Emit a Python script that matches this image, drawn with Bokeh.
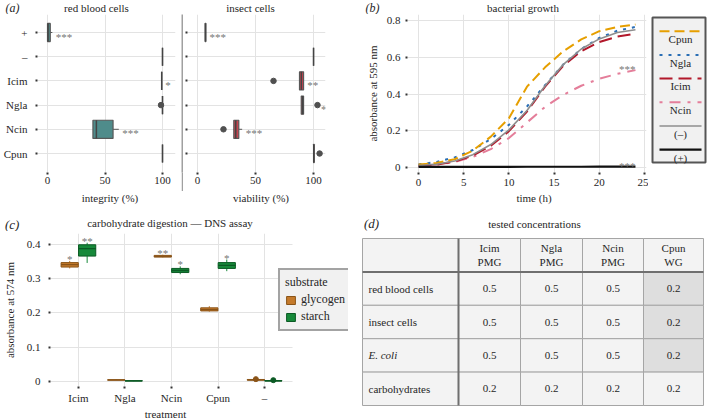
from bokeh.plotting import figure
from bokeh.layouts import row, column
from bokeh.models import Range1d, FixedTicker, Legend, LegendItem, ColumnDataSource
from bokeh.core.properties import value
from bokeh.embed import file_html
from bokeh.resources import INLINE

FONT = "Liberation Serif"
INK = "#262626"
TICK = "#333333"
GRID = "#e3e3e3"
STAR = "#757575"
EDGE = "#585858"

# ---------------- (a) cell assays ----------------
cats_a = ["+", "\u2013", "Icim", "Ngla", "Ncin", "Cpun"]
# red blood cells: integrity (%)
rbc_lw = [0.0, 100, 99.3, 100, 39.5, 100]
rbc_q1 = [0.0, 100, 99.3, 100, 39.5, 100]
rbc_med = [0.5, 100, 99.3, 100, 42.5, 100]
rbc_q3 = [2.4, 100, 99.3, 100, 57.0, 100]
rbc_uw = [4.2, 100, 99.3, 100, 62.0, 100]
rbc_out_cat = ["Ngla"]
rbc_out_val = [98.7]
rbc_sig = ["***", "", "*", "", "***", ""]
# insect cells: viability (%)
ins_lw = [6.6, 100, 87.9, 89.4, 31.0, 100]
ins_q1 = [6.6, 100, 87.9, 89.4, 31.3, 100]
ins_med = [6.9, 100, 89.5, 90.5, 33.0, 100.2]
ins_q3 = [7.2, 100, 91.4, 91.4, 35.6, 100.6]
ins_uw = [7.4, 100, 91.6, 91.6, 38.5, 100.8]
ins_out_cat = ["Icim", "Ngla", "Ncin", "Cpun"]
ins_out_val = [65.5, 103.4, 22.4, 105.2]
ins_sig = ["***", "", "**", "*", "***", ""]
pct_ticks = [0, 50, 100]

# ---------------- (b) bacterial growth ----------------
hours = [0, 2, 4, 6, 8, 10, 12, 14, 16, 18, 20, 22, 24]
growth_cpun = [0.016, 0.025, 0.045, 0.092, 0.168, 0.268, 0.440, 0.545, 0.632, 0.697, 0.742, 0.765, 0.778]
growth_ngla = [0.017, 0.030, 0.055, 0.095, 0.155, 0.232, 0.332, 0.448, 0.560, 0.645, 0.705, 0.745, 0.765]
growth_icim = [0.010, 0.016, 0.032, 0.064, 0.118, 0.198, 0.305, 0.440, 0.553, 0.633, 0.683, 0.713, 0.728]
growth_ncin = [0.010, 0.016, 0.030, 0.057, 0.100, 0.160, 0.245, 0.330, 0.395, 0.445, 0.483, 0.510, 0.530]
growth_neg = [0.011, 0.018, 0.035, 0.070, 0.125, 0.205, 0.310, 0.445, 0.560, 0.645, 0.700, 0.735, 0.750]
growth_pos = [0.003, 0.003, 0.003, 0.003, 0.003, 0.003, 0.004, 0.004, 0.004, 0.004, 0.005, 0.005, 0.005]
growth_names = ["Cpun", "Ngla", "Icim", "Ncin", "(\u2013)", "(+)"]
growth_sig = ["", "", "", "***", "", "***"]
time_ticks = [0, 5, 10, 15, 20, 25]
abs_ticks_b = [0, 0.2, 0.4, 0.6, 0.8]

# ---------------- (c) carbohydrate digestion ----------------
treat = ["Icim", "Ngla", "Ncin", "Cpun", "\u2013"]
gly_lw = [0.330, 0.004, 0.362, 0.204, 0.003]
gly_q1 = [0.334, 0.004, 0.363, 0.206, 0.004]
gly_med = [0.341, 0.005, 0.365, 0.210, 0.005]
gly_q3 = [0.347, 0.005, 0.368, 0.215, 0.006]
gly_uw = [0.352, 0.006, 0.370, 0.220, 0.007]
gly_out_cat = ["\u2013"]
gly_out_val = [0.007]
gly_sig = ["*", "", "**", "", ""]
sta_lw = [0.346, 0.001, 0.313, 0.322, 0.001]
sta_q1 = [0.366, 0.0015, 0.318, 0.330, 0.0015]
sta_med = [0.388, 0.002, 0.324, 0.339, 0.002]
sta_q3 = [0.399, 0.0025, 0.330, 0.347, 0.003]
sta_uw = [0.405, 0.003, 0.336, 0.356, 0.004]
sta_out_cat = ["\u2013"]
sta_out_val = [0.004]
sta_sig = ["**", "", "*", "*", ""]
abs_ticks_c = [0, 0.1, 0.2, 0.3, 0.4]

# ---------------- (d) tested concentrations ----------------
tbl_rows = ["red blood cells", "insect cells", "E. coli", "carbohydrates"]
tbl_heads = ["Icim\nPMG", "Ngla\nPMG", "Ncin\nPMG", "Cpun\nWG"]
conc_icim = [0.5, 0.5, 0.5, 0.2]
conc_ngla = [0.5, 0.5, 0.5, 0.2]
conc_ncin = [0.5, 0.5, 0.5, 0.2]
conc_cpun = [0.2, 0.2, 0.2, 0.2]

# panel tags, titles and axis titles
panel_tags = ["(a)", "(b)", "(c)", "(d)"]
panel_titles = ["red blood cells", "insect cells", "bacterial growth",
                "carbohydrate digestion \u2014 DNS assay", "tested concentrations"]
axis_titles = ["integrity (%)", "viability (%)", "time (h)", "treatment"]


def fmt(v):
    return f"{v:g}"


def style_fig(p, s1):
    p.outline_line_color = None
    for ax in p.axis:
        ax.axis_line_color = None
        ax.major_tick_line_color = TICK
        ax.major_tick_line_width = 2
        ax.major_tick_out = 2
        ax.major_tick_in = 0
        ax.minor_tick_line_color = None
        ax.major_label_text_font = FONT
        ax.major_label_text_font_size = "11px"
        ax.major_label_text_color = INK
        ax.axis_label_text_font = FONT
        ax.axis_label_text_font_size = "11px"
        ax.axis_label_text_font_style = "normal"
        ax.axis_label_text_color = INK
        ax.major_label_standoff = s1
        ax.axis_label_standoff = 5
    for g in p.grid:
        g.grid_line_color = GRID
        g.grid_line_width = 1


def strip(width, height, x0=0.0, x1=None, lb=0, rb=0):
    s = figure(width=width, height=height, x_range=Range1d(x0, width if x1 is None else x1),
               y_range=Range1d(height, 0),
               output_backend="svg", toolbar_location=None, x_axis_type=None, y_axis_type=None,
               min_border_left=lb, min_border_right=rb, min_border_top=0, min_border_bottom=0)
    s.outline_line_color = None
    s.grid.visible = False
    return s


def put(s, x, y, text, size="11px", style="normal"):
    s.text(x=[x], y=[y], text=[text], text_font=value(FONT), text_font_size=size,
           text_font_style=style, text_color=INK, text_align="center", text_baseline="middle")


# ---------------- title strip (top, 0..14) ----------------
TOP_H = 14
st_top = strip(708, TOP_H)
put(st_top, 12, 7.5, panel_tags[0], size="12px", style="italic")
put(st_top, 96, 7, panel_titles[0])
put(st_top, 250, 7, panel_titles[1])
put(st_top, 372, 7.5, panel_tags[1], size="12px", style="italic")
put(st_top, 522.5, 7, panel_titles[2])

# top row: 14..191, all plot frames share 14..172 (Bokeh aligns frames within a row)
ROW1_H = 191 - TOP_H
R1_BOTTOM = 19
ypos_a = [len(cats_a) - i for i in range(len(cats_a))]
ymap_a = dict(zip(cats_a, ypos_a))


def box_panel(width, lb, rb, xr, show_labels, lw, q1, med, q3, uw, out_cat, out_val, sig, fill):
    p = figure(width=width, height=ROW1_H, x_range=Range1d(*xr), y_range=Range1d(0.215, 6.744),
               output_backend="svg", toolbar_location=None,
               min_border_left=lb, min_border_right=rb, min_border_top=0, min_border_bottom=R1_BOTTOM)
    style_fig(p, 2)
    p.xaxis.ticker = FixedTicker(ticks=pct_ticks)
    p.xaxis.major_label_overrides = {t: fmt(t) for t in pct_ticks}
    p.yaxis.ticker = FixedTicker(ticks=ypos_a)
    p.yaxis.major_label_overrides = {y: (c if show_labels else "") for y, c in zip(ypos_a, cats_a)}
    p.yaxis.major_label_standoff = 8 if show_labels else 0
    h = 0.75
    src = ColumnDataSource(dict(y=ypos_a, lw=lw, q1=q1, med=med, q3=q3, uw=uw,
                                y0=[y - h / 2 for y in ypos_a], y1=[y + h / 2 for y in ypos_a]))
    p.segment(x0="lw", x1="q1", y0="y", y1="y", source=src, line_color=EDGE, line_width=1)
    p.segment(x0="q3", x1="uw", y0="y", y1="y", source=src, line_color=EDGE, line_width=1)
    p.hbar(y="y", left="q1", right="q3", height=h, source=src, fill_color=fill,
           line_color=EDGE, line_width=1.2)
    p.segment(x0="med", x1="med", y0="y0", y1="y1", source=src, line_color="#444444", line_width=1.5)
    p.scatter(x=out_val, y=[ymap_a[c] for c in out_cat], size=5.5, color="#505050")
    sx, sy, st = [], [], []
    for i, c in enumerate(cats_a):
        if sig[i]:
            top = max([uw[i]] + [v for cc, v in zip(out_cat, out_val) if cc == c])
            sx.append(top + 3)
            sy.append(ypos_a[i])
            st.append(sig[i])
    p.text(x=sx, y=sy, text=st, text_font=value(FONT), text_font_size="11px", text_color=STAR,
           text_align="left", text_baseline="middle", y_offset=4)
    return p


pa1 = box_panel(181, 37, 6, (-8.7, 111.3), True, rbc_lw, rbc_q1, rbc_med, rbc_q3,
                rbc_uw, rbc_out_cat, rbc_out_val, rbc_sig, "#4f8c8b")
pa2 = box_panel(179, 4, 37, (-8.6, 110.3), False, ins_lw, ins_q1, ins_med, ins_q3,
                ins_uw, ins_out_cat, ins_out_val, ins_sig, "#c7434f")

# divider between the two cell panels
dv = figure(width=2, height=ROW1_H, x_range=Range1d(0, 1), y_range=Range1d(0, 1),
            output_backend="svg", toolbar_location=None, x_axis_type=None, y_axis_type=None,
            min_border_left=0, min_border_right=0, min_border_top=0, min_border_bottom=R1_BOTTOM)
dv.background_fill_color = "#a0a0a0"
dv.border_fill_color = "#a0a0a0"
dv.outline_line_color = None

# ---------------- (b) figure ----------------
pb = figure(width=286, height=ROW1_H, x_range=Range1d(-1.22, 25.22), y_range=Range1d(-0.0272, 0.8327),
            output_backend="svg", toolbar_location=None,
            min_border_left=45, min_border_right=2, min_border_top=0, min_border_bottom=R1_BOTTOM)
style_fig(pb, 4)
pb.xaxis.ticker = FixedTicker(ticks=time_ticks)
pb.xaxis.major_label_overrides = {t: fmt(t) for t in time_ticks}
pb.yaxis.ticker = FixedTicker(ticks=abs_ticks_b)
pb.yaxis.major_label_overrides = {t: fmt(t) for t in abs_ticks_b}
pb.yaxis.major_label_standoff = 5
pb.yaxis.axis_label_standoff = 5
pb.yaxis.axis_label = "absorbance at 595 nm"

b_series = [growth_cpun, growth_ngla, growth_icim, growth_ncin, growth_neg, growth_pos]
b_colors = ["#E69F00", "#2A6EB5", "#B2182B", "#E47E9A", "#8E8E8E", "#111111"]
b_dash = ["10 5", "3 6", "13 6", "3 7 11 7", "solid", "solid"]
b_width = [2, 2, 2, 2, 1.6, 2.2]
for k in [3, 2, 1, 0, 4, 5]:
    pb.line(hours, b_series[k], line_color=b_colors[k], line_dash=b_dash[k], line_width=b_width[k])
sx = [hours[-1] for k in range(len(b_series)) if growth_sig[k]]
sy = [b_series[k][-1] for k in range(len(b_series)) if growth_sig[k]]
st = [growth_sig[k] for k in range(len(b_series)) if growth_sig[k]]
pb.text(x=sx, y=sy, text=st, text_font=value(FONT), text_font_size="11px", text_color=STAR,
        text_align="right", text_baseline="middle", y_offset=-1)

# legend panel for (b): frame 14..172 in page pixels (x 648..708)
lg = figure(width=60, height=ROW1_H, x_range=Range1d(648, 708), y_range=Range1d(172, TOP_H),
            output_backend="svg", toolbar_location=None, x_axis_type=None, y_axis_type=None,
            min_border_left=0, min_border_right=0, min_border_top=0, min_border_bottom=R1_BOTTOM)
lg.outline_line_color = None
lg.grid.visible = False
lg.quad(left=[652], right=[705], top=[17], bottom=[162], fill_color="#f1f1f1",
        line_color="#555555", line_width=2)
for i, name in enumerate(growth_names):
    yl = 30.7 + i * 23.7
    lg.line([659, 701], [yl, yl], line_color=b_colors[i], line_dash=b_dash[i], line_width=b_width[i])
    lg.text(x=[680], y=[yl + 7.8], text=[name], text_font=value(FONT), text_font_size="11px",
            text_color=INK, text_align="center", text_baseline="middle")

# ---------------- middle strip (191..231): axis titles + lower panel titles ----------------
st_mid = strip(708, 40)
put(st_mid, 109.5, 6.5, axis_titles[0])
put(st_mid, 260.5, 6.5, axis_titles[1])
put(st_mid, 533.5, 6.5, axis_titles[2])
put(st_mid, 11.7, 33.3, panel_tags[2], size="13px", style="italic")
put(st_mid, 169.5, 31.3, panel_titles[3])
put(st_mid, 371, 32.3, panel_tags[3], size="13px", style="italic")
put(st_mid, 534, 32.3, panel_titles[4])

# ---------------- (c) figure (231..406) ----------------
xpos_c = list(range(1, len(treat) + 1))
xmap_c = dict(zip(treat, xpos_c))
pc = figure(width=350, height=175, x_range=Range1d(0.4, 6.803), y_range=Range1d(-0.0145, 0.4319),
            output_backend="svg", toolbar_location=None,
            min_border_left=50, min_border_right=2, min_border_top=2, min_border_bottom=19)
style_fig(pc, 3)
pc.xaxis.ticker = FixedTicker(ticks=xpos_c)
pc.xaxis.major_label_overrides = {x: t for x, t in zip(xpos_c, treat)}
pc.xaxis.bounds = (0.4, 5.6)
pc.ygrid.cross_bounds = (0.4, 5.6)
pc.yaxis.ticker = FixedTicker(ticks=abs_ticks_c)
pc.yaxis.major_label_overrides = {t: fmt(t) for t in abs_ticks_c}
pc.yaxis.major_label_standoff = 8
pc.yaxis.axis_label_standoff = 8
pc.yaxis.axis_label = "absorbance at 574 nm"

DODGE = 0.1875
BW = 0.37


def vbox(p, shift, lw, q1, med, q3, uw, out_cat, out_val, sig, fill, edge):
    xs = [x + shift for x in xpos_c]
    src = ColumnDataSource(dict(x=xs, lw=lw, q1=q1, med=med, q3=q3, uw=uw,
                                x0=[x - BW / 2 for x in xs], x1=[x + BW / 2 for x in xs]))
    p.segment(x0="x", x1="x", y0="lw", y1="q1", source=src, line_color=fill, line_width=1)
    p.segment(x0="x", x1="x", y0="q3", y1="uw", source=src, line_color=fill, line_width=1)
    r = p.vbar(x="x", width=BW, bottom="q1", top="q3", source=src, fill_color=fill,
               line_color=edge, line_width=1)
    p.segment(x0="x0", x1="x1", y0="med", y1="med", source=src, line_color=edge, line_width=1.3)
    p.scatter(x=[xmap_c[c] + shift for c in out_cat], y=out_val, size=5, color=edge)
    tx = [xs[i] for i in range(len(xs)) if sig[i]]
    ty = [uw[i] for i in range(len(xs)) if sig[i]]
    tt = [s for s in sig if s]
    p.text(x=tx, y=ty, text=tt, text_font=value(FONT), text_font_size="11px", text_color=STAR,
           text_align="center", text_baseline="middle", y_offset=-2)
    return r


r_gly = vbox(pc, -DODGE, gly_lw, gly_q1, gly_med, gly_q3, gly_uw, gly_out_cat, gly_out_val,
             gly_sig, "#C47A2C", "#8A5418")
r_sta = vbox(pc, DODGE, sta_lw, sta_q1, sta_med, sta_q3, sta_uw, sta_out_cat, sta_out_val,
             sta_sig, "#17893A", "#0B5A24")
leg = Legend(items=[LegendItem(label="glycogen", renderers=[r_gly]),
                    LegendItem(label="starch", renderers=[r_sta])],
             title="substrate", location=(228, 55))
leg.background_fill_color = "#f1f1f1"
leg.background_fill_alpha = 1
leg.border_line_color = "#555555"
leg.border_line_width = 2
leg.label_text_font = FONT
leg.label_text_font_size = "12px"
leg.label_text_color = INK
leg.title_text_font = FONT
leg.title_text_font_size = "12px"
leg.title_text_font_style = "normal"
leg.title_text_color = INK
leg.glyph_height = 10
leg.glyph_width = 11
leg.label_height = 11
leg.label_standoff = 5
leg.spacing = 2
leg.padding = 5
leg.margin = 0
leg.title_standoff = 2
pc.add_layout(leg)

# strip under (c) for its axis title (406..419); its frame aligns with the (c) frame (x 50..348)
st_c = strip(350, 13, x0=50, x1=348, lb=50, rb=2)
put(st_c, 165, 7, axis_titles[3])

# ---------------- (d) table (231..419) ----------------
pd_ = strip(358, 188)
T_LEFT, T_TOP, ROW_H = 12.0, 7.0, 33.4
col_w = [96, 62, 62, 61, 60]
edges = [T_LEFT]
for w in col_w:
    edges.append(edges[-1] + w)
nrows = 1 + len(tbl_rows)
ncols = 1 + len(tbl_heads)
L, R, TT, BB, FF = [], [], [], [], []
for r in range(nrows):
    for c in range(ncols):
        L.append(edges[c])
        R.append(edges[c + 1])
        TT.append(T_TOP + r * ROW_H)
        BB.append(T_TOP + (r + 1) * ROW_H)
        FF.append("#dedede" if (c == ncols - 1 and 1 <= r <= 3) else "#f3f3f3")
pd_.quad(left=L, right=R, top=TT, bottom=BB, fill_color=FF, line_color="#a5a5a5", line_width=1)
pd_.segment(x0=[edges[0], edges[1]], y0=[T_TOP + ROW_H, T_TOP],
            x1=[edges[-1], edges[1]], y1=[T_TOP + ROW_H, T_TOP + nrows * ROW_H],
            line_color="#6f6f6f", line_width=2)
ccent = [(edges[c] + edges[c + 1]) / 2 for c in range(1, ncols)]
pd_.text(x=ccent, y=[T_TOP + ROW_H / 2] * len(tbl_heads), text=tbl_heads, text_font=value(FONT),
         text_font_size="11px", text_color=INK, text_align="center", text_baseline="middle",
         text_line_height=1.2)
rcent = [T_TOP + (r + 1.5) * ROW_H for r in range(len(tbl_rows))]
plain = [i for i, n in enumerate(tbl_rows) if n != "E. coli"]
ital = [i for i, n in enumerate(tbl_rows) if n == "E. coli"]
pd_.text(x=[edges[0] + 6] * len(plain), y=[rcent[i] for i in plain], text=[tbl_rows[i] for i in plain],
         text_font=value(FONT), text_font_size="11px", text_color=INK, text_align="left",
         text_baseline="middle")
pd_.text(x=[edges[0] + 6] * len(ital), y=[rcent[i] for i in ital], text=[tbl_rows[i] for i in ital],
         text_font=value(FONT), text_font_size="11px", text_font_style="italic", text_color=INK,
         text_align="left", text_baseline="middle")
vx, vy, vt = [], [], []
for c, col in enumerate([conc_icim, conc_ngla, conc_ncin, conc_cpun]):
    for r, v in enumerate(col):
        vx.append(ccent[c])
        vy.append(rcent[r])
        vt.append(f"{v:.1f}")
pd_.text(x=vx, y=vy, text=vt, text_font=value(FONT), text_font_size="11px", text_color=INK,
         text_align="center", text_baseline="middle")

lay = column(st_top, row(pa1, dv, pa2, pb, lg), st_mid, row(column(pc, st_c), pd_))
open("out.html", "w").write(file_html(lay, INLINE, title="Figure"))
